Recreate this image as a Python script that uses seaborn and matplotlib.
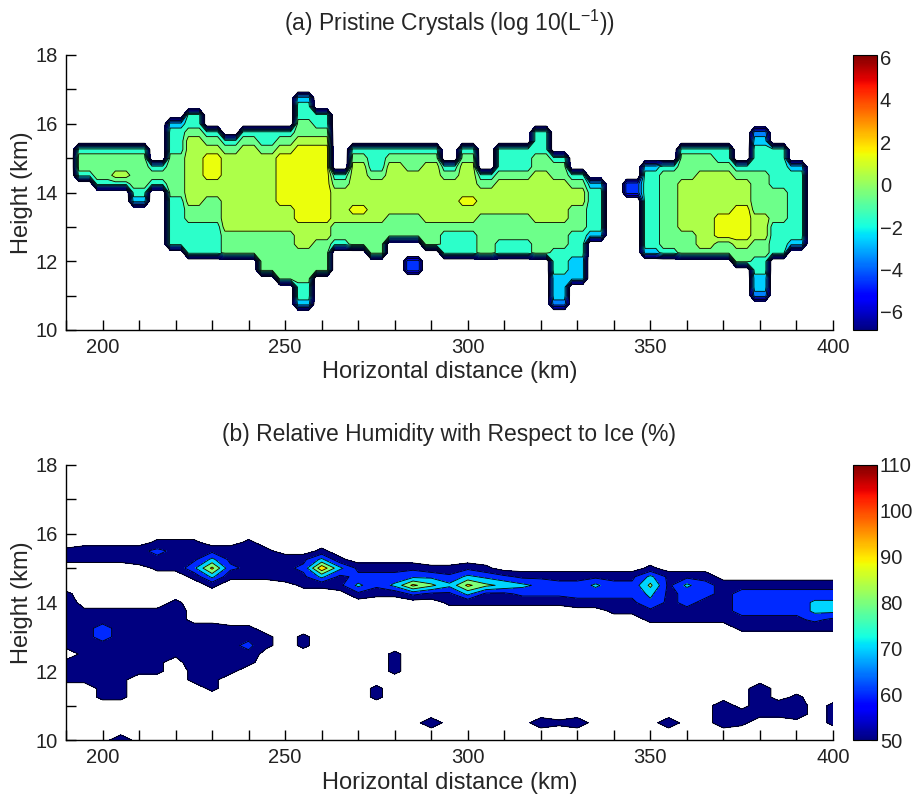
import numpy as np
import matplotlib
matplotlib.use("Agg")
import matplotlib.pyplot as plt
import seaborn as sns
from matplotlib.colors import Normalize
from matplotlib.cm import ScalarMappable
from matplotlib.ticker import MultipleLocator

sns.set_theme(style="white")
plt.rcParams['font.family'] = ['Liberation Sans', 'DejaVu Sans']

# ---------------- data ----------------
# grid: horizontal distance every 5 km, height every 0.25 km
x_km = np.arange(190, 401, 5)
z_km = np.arange(10.0, 18.001, 0.25)

# Panel (a): log10 pristine crystal concentration, coded per column as
# (x, top height, band codes going downward); code c -> value c - 6.5
crystal_cols = [
    (195, 15.25, "5665"),
    (200, 15.25, "56665"),
    (205, 15.25, "56675"),
    (210, 15.25, "5666654"),
    (215, 14.75, "565"),
    (220, 16.0, "455566666555555"),
    (225, 16.25, "55677777777665555"),
    (230, 15.75, "567888776665555"),
    (235, 15.5, "56777777777666"),
    (240, 15.75, "567777777777666"),
    (245, 15.75, "55677777777766666"),
    (250, 15.75, "567888888777666666"),
    (255, 16.75, "4556678888888887776666554"),
    (260, 16.25, "5567888888888776666"),
    (265, 14.5, "567777665"),
    (270, 15.25, "567777787666"),
    (275, 15.25, "5556777776666"),
    (280, 15.25, "56777777666"),
    (285, 15.25, "56677777666..22"),
    (290, 15.25, "567777777666"),
    (295, 14.75, "56777776555"),
    (300, 15.25, "5677778776555"),
    (305, 14.5, "5677766666"),
    (310, 15.25, "5556777766655"),
    (315, 15.25, "5556777766655"),
    (320, 15.75, "555667777776666"),
    (325, 15.0, "566777776665554443"),
    (330, 14.5, "5677666555444"),
    (335, 14.25, "4555554"),
    (345, 14.25, "22"),
    (350, 14.75, "45555555554"),
    (355, 14.75, "56666666665"),
    (360, 15.25, "5666777777666"),
    (365, 15.25, "5667777777776"),
    (370, 15.25, "5567777788866"),
    (375, 14.75, "567778888766"),
    (380, 15.75, "34555666667776655443"),
    (385, 15.25, "5555566665555"),
    (390, 14.75, "4555555554"),
]

# Panel (b): relative humidity w.r.t. ice (%), code c -> 52.5 + 5*c
rhi_cols = [
    # upper cirrus layer
    (190, 15.5, "00"), (195, 15.5, "10"), (200, 15.5, "10"), (205, 15.5, "10"),
    (210, 15.5, "11"), (215, 15.75, "0210"), (220, 15.75, "0110"),
    (225, 15.75, "01130"), (230, 15.5, "14840"), (235, 15.5, "1120"),
    (240, 15.75, "01110"), (245, 15.5, "0110"), (250, 15.25, "111"),
    (255, 15.25, "1210"), (260, 15.5, "04940"), (265, 15.25, "0411"),
    (270, 15.0, "1241"), (275, 15.0, "1220"), (280, 15.0, "1240"),
    (285, 15.0, "1382"), (290, 15.0, "0361"), (295, 15.0, "02410"),
    (300, 15.0, "14840"), (305, 15.0, "03610"), (310, 14.75, "2510"),
    (315, 14.75, "1420"), (320, 14.75, "1320"), (325, 14.75, "1220"),
    (330, 14.75, "1221"), (335, 14.75, "1421"), (340, 14.75, "12210"),
    (345, 14.75, "12210"), (350, 15.0, "0464310"), (355, 14.75, "111110"),
    (360, 14.75, "142210"), (365, 14.75, "122110"), (370, 14.5, "11110"),
    (375, 14.5, "122210"), (380, 14.5, "122210"), (385, 14.5, "122210"),
    (390, 14.5, "122210"), (395, 14.5, "124420"), (400, 14.5, "124410"),
    # lower moist patches
    (190, 14.25, "0111100.000"), (195, 13.75, "011110000"),
    (200, 13.75, "01221000000"), (205, 13.75, "01111100000"),
    (210, 13.75, "01111000"), (215, 13.75, "01110000"), (220, 14.0, "0111000"),
    (225, 13.25, "1111100"), (230, 13.25, "11110000"), (235, 13.25, "011100"),
    (240, 13.25, "01210"), (245, 13.0, "00"), (255, 13.0, "00"),
    (275, 11.5, "00"), (280, 12.5, "000"), (290, 10.5, "1"), (205, 10.0, "1"),
    (320, 10.5, "1"), (325, 10.5, "0"), (330, 10.5, "1"), (355, 10.5, "1"),
    (370, 11.0, "111"), (375, 10.75, "10"), (380, 11.5, "1110"),
    (385, 11.0, "10"), (390, 11.25, "011"), (400, 11.0, "000"),
]

levels_a = np.arange(-7, 7, 1)
levels_b = np.arange(50, 111, 10)
ticks_a = [-6, -4, -2, 0, 2, 4, 6]
ticks_b = [50, 60, 70, 80, 90, 100, 110]


def build(cols, conv, empty):
    grid = np.full((len(z_km), len(x_km)), float(empty))
    for x, top, codes in cols:
        j = int(round((x - 190) / 5))
        i0 = int(round((top - 10) / 0.25))
        for k, c in enumerate(codes):
            if c != '.':
                grid[i0 - k, j] = conv(int(c))
    return grid


field_a = build(crystal_cols, lambda c: c - 6.5, -9.0)
field_b = build(rhi_cols, lambda c: 52.5 + 5 * c, 45.0)

# panel (a) is drawn on the model's blocky columns: each 5-km column is a plateau
xa = (np.repeat(x_km, 2) + np.tile([-1.5, 1.5], len(x_km))).astype(float)
fa = np.repeat(field_a, 2, axis=1)

cmap = matplotlib.colormaps["jet"]
norm_a = Normalize(-6.85, 6.12)
norm_b = Normalize(50, 110)
colors_a = [cmap(norm_a(max(v + 0.4, -6.85))) for v in levels_a[:-1]]
colors_b = [cmap(norm_b(v)) for v in levels_b[:-1]]

# ---------------- figure ----------------
fig = plt.figure(figsize=(9.14, 7.99), dpi=100)
W, H = 914, 799


def add_ax(l, t, r, b):
    return fig.add_axes([l / W, 1 - b / H, (r - l) / W, (b - t) / H])


ax_a = add_ax(66, 55, 833, 330)
ax_b = add_ax(66, 465, 833, 740)
cax_a = add_ax(853, 55, 877, 330)
cax_b = add_ax(853, 465, 877, 740)

panels = [
    (ax_a, cax_a, xa, fa, levels_a, colors_a, norm_a, ticks_a,
     "(a) Pristine Crystals (log 10(L$^{\\mathregular{-1}}$))"),
    (ax_b, cax_b, x_km, field_b, levels_b, colors_b, norm_b, ticks_b,
     "(b) Relative Humidity with Respect to Ice (%)"),
]

for ax, cax, xx, fld, lev, cols, nrm, tks, title in panels:
    ax.set_facecolor("white")
    ax.contourf(xx, z_km, fld, levels=lev, colors=cols)
    ax.contour(xx, z_km, fld, levels=lev, colors="black", linewidths=0.6,
               linestyles="solid")
    ax.set_xlim(190, 400)
    ax.set_ylim(10, 18)
    ax.xaxis.set_major_locator(MultipleLocator(50))
    ax.xaxis.set_minor_locator(MultipleLocator(10))
    ax.yaxis.set_major_locator(MultipleLocator(2))
    ax.yaxis.set_minor_locator(MultipleLocator(1))
    for side in ("top", "right"):
        ax.spines[side].set_visible(False)
    for side in ("left", "bottom"):
        ax.spines[side].set_color("black")
        ax.spines[side].set_linewidth(1.0)
    ax.tick_params(which="both", direction="in", length=7, width=1,
                   color="black", labelsize=14.5, labelcolor="#222222",
                   bottom=True, left=True, top=False, right=False, pad=6)
    ax.set_xlabel("Horizontal distance (km)", fontsize=17, labelpad=3)
    ax.set_ylabel("Height (km)", fontsize=17, labelpad=2)
    ax.set_title(title, fontsize=16.5, pad=17)
    ax.grid(False)

    cb = fig.colorbar(ScalarMappable(norm=nrm, cmap=cmap), cax=cax)
    cb.set_ticks(tks)
    cb.outline.set_edgecolor("black")
    cb.outline.set_linewidth(0.8)
    cax.tick_params(direction="in", length=4, width=0.8, labelsize=14.5,
                    labelcolor="#222222", left=True, right=True, pad=2)

fig.savefig("out.png", dpi=100)
